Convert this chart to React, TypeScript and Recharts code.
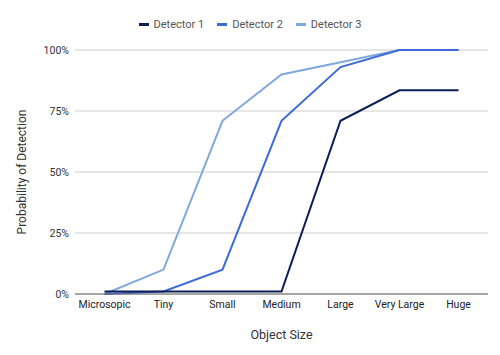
import React from 'react';
import { LineChart, Line, XAxis, YAxis, CartesianGrid, Legend, Label } from 'recharts';

const categories = ['Microsopic', 'Tiny', 'Small', 'Medium', 'Large', 'Very Large', 'Huge'];
const detector1 = [1, 1, 1, 1, 71, 83.5, 83.5];
const detector2 = [0, 1, 10, 71, 93, 100, 100];
const detector3 = [0, 10, 71, 90, 95, 100, 100];
const yTicks = [0, 25, 50, 75, 100];

const seriesNames = ['Detector 1', 'Detector 2', 'Detector 3'];
const colors = ['#0c1c55', '#3e6bd6', '#80a8dc'];

const data = categories.map((c, i) => ({
  name: c,
  d1: detector1[i],
  d2: detector2[i],
  d3: detector3[i],
}));

const FONT = 'Roboto, "Noto Sans", sans-serif';

const renderLegend = () => (
  <div style={{ display: 'flex', justifyContent: 'center', alignItems: 'center', fontFamily: FONT, fontSize: 11, lineHeight: '13px', color: '#555' }}>
    {seriesNames.map((n, i) => (
      <div key={n} style={{ display: 'flex', alignItems: 'center', marginRight: i < 2 ? 13 : 0 }}>
        <span style={{ display: 'inline-block', width: 10, height: 3, background: colors[i], marginRight: 5 }} />
        <span>{n}</span>
      </div>
    ))}
  </div>
);

export default function App() {
  return (
    <div style={{ position: 'absolute', left: 0, top: 0, width: 500, height: 355, background: '#fff' }}>
      <LineChart width={500} height={355} data={data} margin={{ top: 37, right: 12, bottom: 31, left: 15 }}>
        <CartesianGrid vertical={false} stroke="#cccccc" />
        <XAxis
          dataKey="name"
          height={30}
          tickSize={0}
          tickMargin={7}
          stroke="#666"
          padding={{ left: 29.5, right: 29.5 }}
          interval={0}
          tick={{ fill: '#222', fontSize: 10.5, fontFamily: FONT }}
        >
          <Label value="Object Size" position="bottom" offset={6} style={{ fill: '#333', fontSize: 12.5, fontFamily: FONT }} />
        </XAxis>
        <YAxis
          width={60}
          domain={[0, 100]}
          ticks={yTicks}
          tickFormatter={(v: number) => `${v}%`}
          tickSize={0}
          tickMargin={6}
          axisLine={false}
          tick={{ fill: '#333', fontSize: 10.5, fontFamily: FONT }}
        >
          <Label value="Probability of Detection" angle={-90} position="insideLeft" offset={7} style={{ textAnchor: 'middle', fill: '#333', fontSize: 12, fontFamily: FONT }} />
        </YAxis>
        <Legend verticalAlign="top" content={renderLegend} wrapperStyle={{ top: 18, left: 0, width: 500 }} />
        <Line type="linear" dataKey="d3" name={seriesNames[2]} stroke={colors[2]} strokeWidth={2} dot={false} isAnimationActive={false} />
        <Line type="linear" dataKey="d2" name={seriesNames[1]} stroke={colors[1]} strokeWidth={2} dot={false} isAnimationActive={false} />
        <Line type="linear" dataKey="d1" name={seriesNames[0]} stroke={colors[0]} strokeWidth={2} dot={false} isAnimationActive={false} />
      </LineChart>
    </div>
  );
}
